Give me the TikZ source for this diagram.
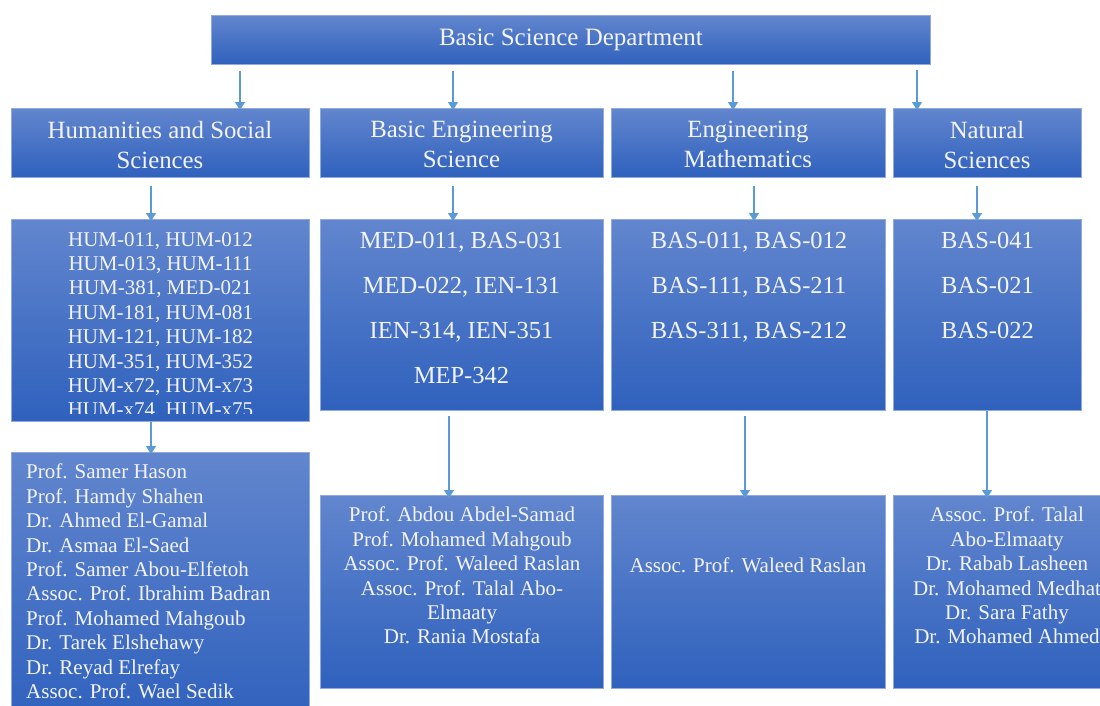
\documentclass[tikz,border=0pt]{standalone}
\usepackage{fontspec}
\setmainfont{Liberation Serif}
\usetikzlibrary{arrows.meta}
\definecolor{boxtop}{HTML}{6286CE}
\definecolor{boxbot}{HTML}{2F61BD}
\definecolor{boxline}{HTML}{8FAADC}
\definecolor{arrowblue}{HTML}{5B9BD5}
\definecolor{txtwhite}{HTML}{F4F4F8}
\tikzset{
  deptbox/.style={rectangle, draw=boxline, line width=0.8pt, top color=boxtop, bottom color=boxbot, anchor=north west, inner sep=0pt},
  lbl/.style={text=txtwhite, inner sep=0pt, align=center},
  conn/.style={draw=arrowblue, line width=1.2pt, -{Triangle[width=10pt,length=8pt]}},
}
\begin{document}
\begin{tikzpicture}[x=1pt,y=-1pt]
\clip (0,0) rectangle (1100,705);
\fill[white] (0,0) rectangle (1100,705);

% boxes
\node[deptbox, minimum width=719pt, minimum height=49pt] (top) at (211,15) {};
\node[deptbox, minimum width=298pt, minimum height=69pt] (hum) at (11,108) {};
\node[deptbox, minimum width=283pt, minimum height=69pt] (bes) at (320,108) {};
\node[deptbox, minimum width=274pt, minimum height=69pt] (em) at (611,108) {};
\node[deptbox, minimum width=188pt, minimum height=69pt] (ns) at (893,108) {};

\node[deptbox, minimum width=298pt, minimum height=202pt] (humc) at (11,219) {};
\node[deptbox, minimum width=283pt, minimum height=191pt] (besc) at (320,219) {};
\node[deptbox, minimum width=274pt, minimum height=191pt] (emc) at (611,219) {};
\node[deptbox, minimum width=188pt, minimum height=191pt] (nsc) at (893,219) {};

\node[deptbox, minimum width=298pt, minimum height=270pt] (hump) at (11,452) {};
\node[deptbox, minimum width=283pt, minimum height=193pt] (besp) at (320,495) {};
\node[deptbox, minimum width=274pt, minimum height=193pt] (emp) at (611,495) {};
\node[deptbox, minimum width=228pt, minimum height=193pt] (nsp) at (893,495) {};

% texts
\node[lbl, font=\fontsize{25}{30}\selectfont] (toptxt) at (top.center) {Basic Science Department};

\node[lbl, font=\fontsize{24.8}{30.5}\selectfont, anchor=north] (humt) at (160,120.8) {Humanities and Social\\Sciences};
\node[lbl, font=\fontsize{24.8}{30.5}\selectfont, anchor=north] (best) at (461.5,120.8) {Basic Engineering\\Science};
\node[lbl, font=\fontsize{24.8}{30.5}\selectfont, anchor=north] (emt) at (748,120.8) {Engineering\\Mathematics};
\node[lbl, font=\fontsize{24.8}{30.5}\selectfont, anchor=north] (nst) at (987,120.8) {Natural\\Sciences};

\begin{scope}
\clip (11,219) rectangle (309,413);
\node[lbl, font=\fontsize{21}{24.4}\selectfont, anchor=north] (humct) at (160.5,232) {HUM-011, HUM-012\\HUM-013, HUM-111\\HUM-381, MED-021\\HUM-181, HUM-081\\HUM-121, HUM-182\\HUM-351, HUM-352\\HUM-x72, HUM-x73\\HUM-x74, HUM-x75};
\end{scope}
\node[lbl, font=\fontsize{24.5}{45}\selectfont, anchor=north] (besct) at (461.5,232) {MED-011, BAS-031\\MED-022, IEN-131\\IEN-314, IEN-351\\MEP-342};
\node[lbl, font=\fontsize{24.5}{45}\selectfont, anchor=north] (emct) at (749,232) {BAS-011, BAS-012\\BAS-111, BAS-211\\BAS-311, BAS-212};
\node[lbl, font=\fontsize{24.5}{45}\selectfont, anchor=north] (nsct) at (987.5,232) {BAS-041\\BAS-021\\BAS-022};

\node[lbl, align=left, font=\fontsize{21}{24.4}\selectfont, anchor=north west] (humpt) at (26,464) {Prof. Samer Hason\\Prof. Hamdy Shahen\\Dr. Ahmed El-Gamal\\Dr. Asmaa El-Saed\\Prof. Samer Abou-Elfetoh\\Assoc. Prof. Ibrahim Badran\\Prof. Mohamed Mahgoub\\Dr. Tarek Elshehawy\\Dr. Reyad Elrefay\\Assoc. Prof. Wael Sedik};
\node[lbl, font=\fontsize{21}{24.4}\selectfont, anchor=north] (bespt) at (462,507) {Prof. Abdou Abdel-Samad\\Prof. Mohamed Mahgoub\\Assoc. Prof. Waleed Raslan\\Assoc. Prof. Talal Abo-\\Elmaaty\\Dr. Rania Mostafa};
\node[lbl, font=\fontsize{21}{24.4}\selectfont, anchor=base] (empt) at (748,572) {Assoc. Prof. Waleed Raslan};
\node[lbl, font=\fontsize{21}{24.4}\selectfont, anchor=north] (nspt) at (1007,507) {Assoc. Prof. Talal\\Abo-Elmaaty\\Dr. Rabab Lasheen\\Dr. Mohamed Medhat\\Dr. Sara Fathy\\Dr. Mohamed Ahmed};

% connector x positions
\coordinate (a1) at (240,0);
\coordinate (a2) at (453,0);
\coordinate (a3) at (733,0);
\coordinate (a4) at (917,0);
\coordinate (b1) at (151,0);
\coordinate (b2) at (453,0);
\coordinate (b3) at (754,0);
\coordinate (b4) at (977,0);
\coordinate (c1) at (151,0);
\coordinate (c2) at (449,0);
\coordinate (c3) at (745,0);
\coordinate (c4) at (987,0);

\draw[conn] ([yshift=-6pt]top.south -| a1) -- ([yshift=-2pt]hum.north -| a1);
\draw[conn] ([yshift=-6pt]top.south -| a2) -- ([yshift=-2pt]bes.north -| a2);
\draw[conn] ([yshift=-6pt]top.south -| a3) -- ([yshift=-2pt]em.north -| a3);
\draw[conn] ([yshift=-5pt]top.south -| a4) -- ([yshift=-2pt]ns.north -| a4);

\draw[conn] ([yshift=-8pt]hum.south -| b1) -- ([yshift=-2pt]humc.north -| b1);
\draw[conn] ([yshift=-8pt]bes.south -| b2) -- ([yshift=-2pt]besc.north -| b2);
\draw[conn] ([yshift=-8pt]em.south -| b3) -- ([yshift=-2pt]emc.north -| b3);
\draw[conn] ([yshift=-8pt]ns.south -| b4) -- ([yshift=-2pt]nsc.north -| b4);

\draw[conn] (humc.south -| c1) -- ([yshift=-2pt]hump.north -| c1);
\draw[conn] ([yshift=-5pt]besc.south -| c2) -- ([yshift=-3pt]besp.north -| c2);
\draw[conn] ([yshift=-5pt]emc.south -| c3) -- ([yshift=-3pt]emp.north -| c3);
\draw[conn] (nsc.south -| c4) -- ([yshift=-3pt]nsp.north -| c4);
\end{tikzpicture}
\end{document}
